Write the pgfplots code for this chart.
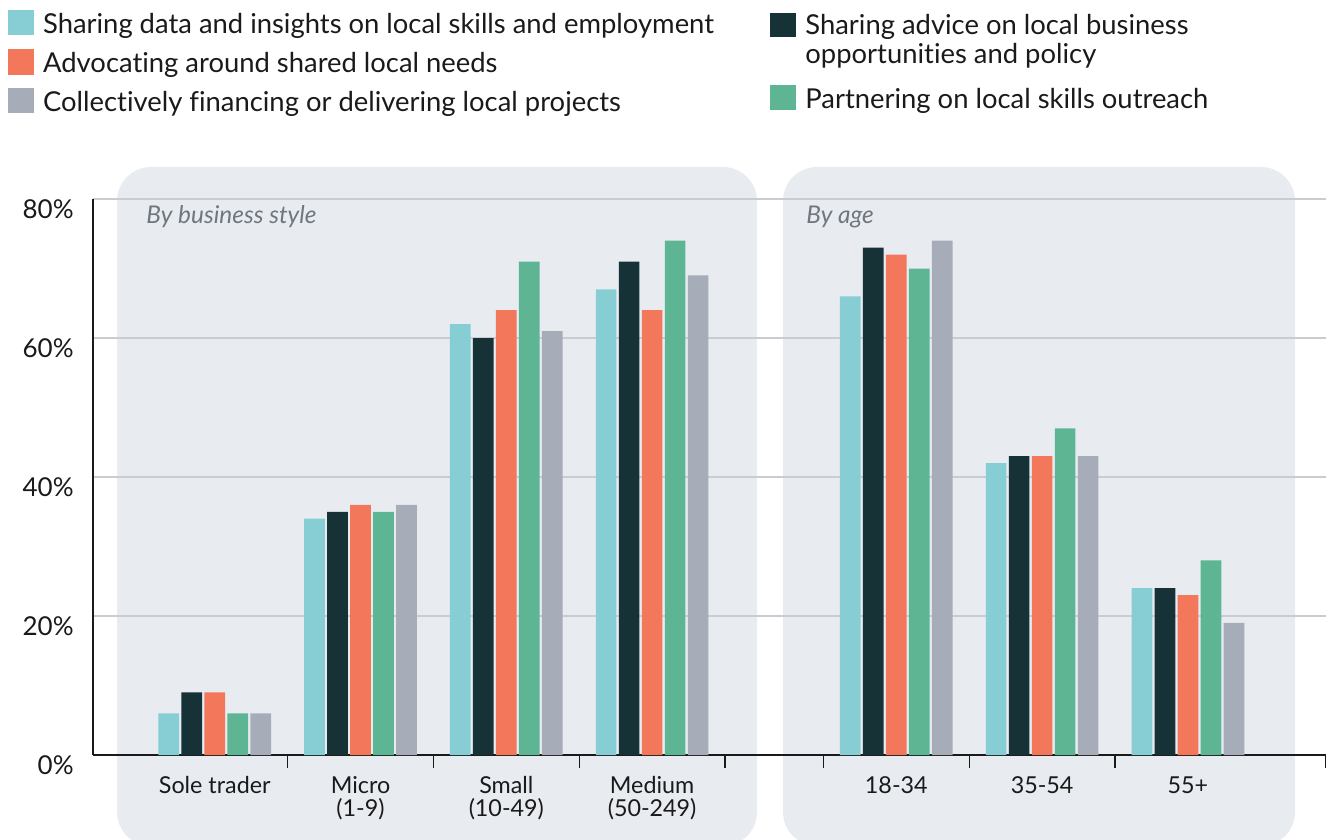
\documentclass[border=0pt]{standalone}
\usepackage{fontspec}
\setmainfont{Lato}[Ligatures={NoCommon}]
\usepackage{pgfplots}
\pgfplotsset{compat=1.18}
\definecolor{cA}{HTML}{86CED4}
\definecolor{cB}{HTML}{163236}
\definecolor{cC}{HTML}{F2775B}
\definecolor{cD}{HTML}{5DB594}
\definecolor{cE}{HTML}{A6ADB8}
\definecolor{panel}{HTML}{E8ECF1}
\definecolor{gridc}{HTML}{C9CDD2}
\definecolor{txt}{HTML}{1A1A1A}
\definecolor{subt}{HTML}{6F767E}
\newcommand{\legfont}{\fontsize{13.7}{16}\selectfont}
\newcommand{\catfont}{\fontsize{11.65}{11.7}\selectfont}
\newcommand{\itfont}{\fontsize{12.2}{14}\selectfont\itshape}
\newcommand{\ytfont}{\fontsize{13}{14}\selectfont}
\begin{document}
\begin{tikzpicture}
\path[use as bounding box] (0,0) rectangle (665pt,-420pt);
\begin{scope}[x=0.5pt,y=-0.5pt]
  \fill[panel, rounded corners=17pt] (117,167) rectangle (757,846);
  \fill[panel, rounded corners=17pt] (783,167) rectangle (1295,846);
  % legend
  \fill[cA] (8,10) rectangle (34,35);
  \fill[cC] (8,49) rectangle (34,75);
  \fill[cE] (8,88) rectangle (34,113);
  \fill[cB] (770,12.7) rectangle (796,36.7);
  \fill[cD] (770,85) rectangle (796,110);
  \node[anchor=base west, inner sep=0pt, font=\legfont, text=txt] at (42.7,33.3) {Sharing data and insights on local skills and employment};
  \node[anchor=base west, inner sep=0pt, font=\legfont, text=txt] at (42.7,72.7) {Advocating around shared local needs};
  \node[anchor=base west, inner sep=0pt, font=\legfont, text=txt] at (42.7,111.7) {Collectively financing or delivering local projects};
  \node[anchor=base west, inner sep=0pt, font=\legfont, text=txt] at (805,35) {Sharing advice on local business};
  \node[anchor=base west, inner sep=0pt, font=\legfont, text=txt] at (805,63.3) {opportunities and policy};
  \node[anchor=base west, inner sep=0pt, font=\legfont, text=txt] at (805,108.3) {Partnering on local skills outreach};
  \node[anchor=base west, inner sep=0pt, font=\itfont, text=subt] at (146,223.3) {By business style};
  \node[anchor=base west, inner sep=0pt, font=\itfont, text=subt] at (806,223.3) {By age};
\end{scope}
\begin{axis}[
  at={(46.5pt,-377.5pt)}, anchor=south west,
  scale only axis, width=616.35pt, height=278pt,
  xmin=-0.835, xmax=7.62, ymin=0, ymax=80,
  clip=false,
  axis x line=bottom, axis y line=left,
  axis line style={-, draw=txt, line width=0.8pt},
  ytick={0,20,40,60,80},
  yticklabels={0\%,20\%,40\%,60\%,80\%},
  yticklabel style={font=\ytfont, text=txt, anchor=east, inner sep=0pt, xshift=-9.5pt, yshift=-5pt},
  ytick style={draw=none},
  ymajorgrids,
  major grid style={draw=gridc, line width=0.9pt},
  xtick={0.5,1.5,2.5,3.5,4.175,5.175,6.175,7.62},
  xticklabels={,,,,,,,},
  tick align=inside,
  major tick length=6.5pt,
  xtick style={draw=txt, line width=0.7pt},
  extra x ticks={0,1,2,3,4.675,5.675,6.675},
  extra x tick labels={Sole trader,{Micro\\(1-9)},{Small\\(10-49)},{Medium\\(50-249)},18-34,35-54,55+},
  extra x tick style={major tick length=0pt, xticklabel style={align=center, font=\catfont, text=txt, anchor=north, inner sep=0pt, yshift=-10.5pt}},
  ybar=1.15pt, bar width=10.35pt,
]
\addplot[fill=cA, draw=none] coordinates {(0,6) (1,34) (2,62) (3,67) (4.675,66) (5.675,42) (6.675,24)};
\addplot[fill=cB, draw=none] coordinates {(0,9) (1,35) (2,60) (3,71) (4.675,73) (5.675,43) (6.675,24)};
\addplot[fill=cC, draw=none] coordinates {(0,9) (1,36) (2,64) (3,64) (4.675,72) (5.675,43) (6.675,23)};
\addplot[fill=cD, draw=none] coordinates {(0,6) (1,35) (2,71) (3,74) (4.675,70) (5.675,47) (6.675,28)};
\addplot[fill=cE, draw=none] coordinates {(0,6) (1,36) (2,61) (3,69) (4.675,74) (5.675,43) (6.675,19)};
\end{axis}
\end{tikzpicture}
\end{document}
